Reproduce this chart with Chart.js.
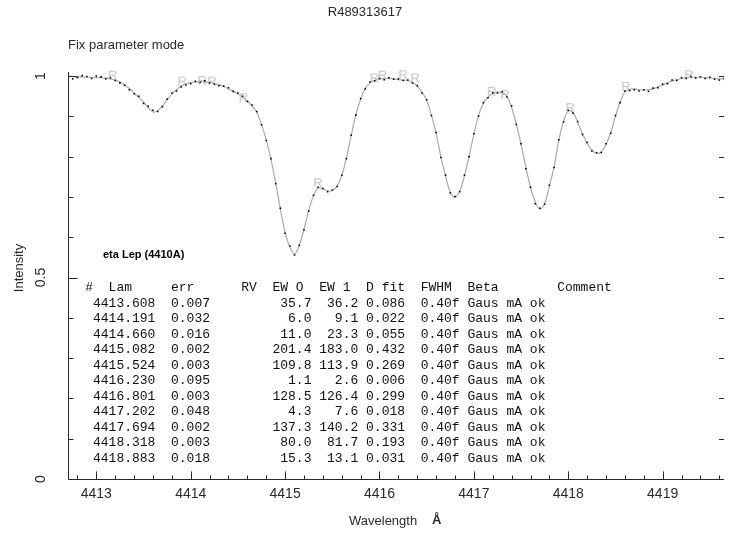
<!DOCTYPE html>
<html>
<head>
<meta charset="utf-8">
<script src="https://cdn.jsdelivr.net/npm/chart.js@4/dist/chart.umd.min.js"></script>
<style>
  html, body { margin: 0; padding: 0; background: #fff; }
  canvas { display: block; }
</style>
</head>
<body>
<canvas id="c" width="729" height="535"></canvas>
<script>
// ---------- DATA ----------
const chartTitle = "R489313617";
const modeText = "Fix parameter mode";
const starName = "eta Lep (4410A)";

// spectrum sampling (wavelength grid of the observed spectrum)
const lamStart = 4412.70;
const lamStep = 0.05;

// observed normalized intensity (dots)
const observed = [
  1.006, 0.993, 0.996, 1.001, 0.999, 0.994, 1.000, 0.998, 0.993, 0.996,
  0.989, 0.983, 0.977, 0.966, 0.956, 0.950, 0.932, 0.925, 0.915, 0.912,
  0.924, 0.943, 0.958, 0.963, 0.973, 0.978, 0.981, 0.987, 0.984, 0.988,
  0.983, 0.980, 0.976, 0.975, 0.971, 0.962, 0.958, 0.950, 0.937, 0.928,
  0.912, 0.879, 0.840, 0.795, 0.733, 0.672, 0.610, 0.578, 0.556, 0.580,
  0.618, 0.665, 0.704, 0.724, 0.721, 0.713, 0.717, 0.726, 0.754, 0.795,
  0.853, 0.903, 0.944, 0.968, 0.985, 0.988, 0.994, 0.991, 0.996, 0.992,
  0.993, 0.989, 0.990, 0.983, 0.976, 0.958, 0.941, 0.902, 0.860, 0.798,
  0.754, 0.710, 0.701, 0.713, 0.754, 0.800, 0.857, 0.901, 0.934, 0.946,
  0.958, 0.958, 0.961, 0.948, 0.926, 0.880, 0.832, 0.770, 0.724, 0.683,
  0.672, 0.682, 0.729, 0.773, 0.842, 0.886, 0.915, 0.908, 0.887, 0.855,
  0.835, 0.814, 0.810, 0.810, 0.832, 0.858, 0.902, 0.934, 0.963, 0.964,
  0.966, 0.963, 0.966, 0.962, 0.970, 0.971, 0.980, 0.981, 0.990, 0.989,
  0.996, 0.994, 0.999, 0.995, 0.998, 0.994, 0.997, 0.992, 0.990, 0.994
];

// fitted profile (grey line)
const fitted = [
  1.000, 0.999, 0.998, 0.998, 0.997, 0.997, 0.996, 0.996, 0.995, 0.993,
  0.990, 0.985, 0.978, 0.969, 0.958, 0.947, 0.935, 0.922, 0.911, 0.914,
  0.926, 0.941, 0.955, 0.966, 0.975, 0.981, 0.984, 0.985, 0.986, 0.985,
  0.984, 0.981, 0.978, 0.974, 0.968, 0.962, 0.956, 0.948, 0.938, 0.926,
  0.910, 0.880, 0.842, 0.793, 0.735, 0.670, 0.612, 0.576, 0.558, 0.579,
  0.620, 0.667, 0.702, 0.722, 0.720, 0.715, 0.716, 0.727, 0.752, 0.797,
  0.852, 0.905, 0.942, 0.970, 0.983, 0.990, 0.992, 0.994, 0.994, 0.993,
  0.991, 0.990, 0.989, 0.984, 0.975, 0.960, 0.940, 0.903, 0.858, 0.800,
  0.752, 0.712, 0.699, 0.715, 0.752, 0.802, 0.855, 0.903, 0.932, 0.948,
  0.956, 0.960, 0.959, 0.950, 0.922, 0.880, 0.830, 0.775, 0.724, 0.688,
  0.670, 0.684, 0.727, 0.775, 0.840, 0.888, 0.913, 0.910, 0.885, 0.857,
  0.833, 0.816, 0.808, 0.812, 0.830, 0.860, 0.900, 0.936, 0.961, 0.967,
  0.968, 0.966, 0.965, 0.966, 0.968, 0.973, 0.978, 0.983, 0.988, 0.991,
  0.994, 0.996, 0.997, 0.997, 0.997, 0.996, 0.995, 0.994, 0.993, 0.993
];

// continuum / region markers ("R")
const markerLam = [4413.175, 4413.911, 4414.122, 4414.227, 4414.560, 4415.349, 4415.946,
                   4416.033, 4416.251, 4416.377, 4417.190, 4417.330, 4418.022, 4418.611, 4419.277];
const markerVal = [1.001, 0.986, 0.988, 0.986, 0.945, 0.734, 0.994,
                   1.001, 1.002, 0.994, 0.961, 0.953, 0.920, 0.973, 1.002];

// axis ticks
const xMin = 4412.70, xMax = 4419.65;
const yMin = 0, yMax = 1.015;
const xTickLabels = [4413, 4414, 4415, 4416, 4417, 4418, 4419];
const yTickLabels = [0, 0.5, 1];

// line table
const tblLam  = ["4413.608","4414.191","4414.660","4415.082","4415.524","4416.230","4416.801","4417.202","4417.694","4418.318","4418.883"];
const tblErr  = ["0.007","0.032","0.016","0.002","0.003","0.095","0.003","0.048","0.002","0.003","0.018"];
const tblEW0  = ["35.7","6.0","11.0","201.4","109.8","1.1","128.5","4.3","137.3","80.0","15.3"];
const tblEW1  = ["36.2","9.1","23.3","183.0","113.9","2.6","126.4","7.6","140.2","81.7","13.1"];
const tblDfit = ["0.086","0.022","0.055","0.432","0.269","0.006","0.299","0.018","0.331","0.193","0.031"];
const tblFwhm = "0.40f";
const tblBeta = "Gaus mA ok";

// ---------- BUILD ----------
const obsPts = observed.map((v, i) => ({ x: +(lamStart + lamStep * i).toFixed(3), y: v }));
const fitPts = fitted.map((v, i) => ({ x: +(lamStart + lamStep * i).toFixed(3), y: v }));
const markerPts = markerLam.map((l, i) => ({ x: l, y: markerVal[i] }));

// glyph "R" as point style
const rGlyph = document.createElement('canvas');
rGlyph.width = 12; rGlyph.height = 14;
{
  const g = rGlyph.getContext('2d');
  g.fillStyle = '#c2c2c2';
  g.font = '13px "Liberation Sans", Arial, sans-serif';
  g.textAlign = 'center'; g.textBaseline = 'middle';
  g.fillText('R', 6, 7.5);
}

const decor = {
  id: 'decor',
  afterDraw(chart) {
    const ctx = chart.ctx;
    const xs = chart.scales.x, ys = chart.scales.y;
    const area = chart.chartArea;
    const ink = '#2a2a2a';
    ctx.save();
    ctx.strokeStyle = ink;
    ctx.lineWidth = 1;
    // axis lines
    const L = Math.round(area.left) + 0.5;
    const B = Math.round(ys.getPixelForValue(0)) + 0.5;
    ctx.beginPath();
    ctx.moveTo(L, area.top + 2); ctx.lineTo(L, B);
    ctx.lineTo(area.right, B);
    ctx.stroke();
    // x ticks (every 0.2, major at integers)
    ctx.beginPath();
    for (let k = 0; k <= 40; k++) {
      const v = 4412.8 + 0.2 * k;
      if (v > xMax) break;
      const px = Math.round(xs.getPixelForValue(v)) + 0.5;
      const major = Math.abs(v - Math.round(v)) < 1e-6;
      ctx.moveTo(px, B); ctx.lineTo(px, B - (major ? 8 : 4));
    }
    // y ticks left and right (every 0.1)
    for (let k = 0; k <= 10; k++) {
      const v = k / 10;
      const py = Math.round(ys.getPixelForValue(v)) + 0.5;
      const major = (k % 5 === 0);
      ctx.moveTo(L, py); ctx.lineTo(L + (major ? 9 : 5), py);
      if (k > 0) { ctx.moveTo(area.right, py); ctx.lineTo(area.right - 5, py); }
    }
    ctx.stroke();

    ctx.fillStyle = ink;
    // x tick labels
    ctx.font = '14px "Liberation Sans", Arial, sans-serif';
    ctx.textAlign = 'center'; ctx.textBaseline = 'middle';
    xTickLabels.forEach(v => {
      ctx.fillText(String(v), xs.getPixelForValue(v), 494);
    });
    // y tick labels rotated
    yTickLabels.forEach(v => {
      ctx.save();
      ctx.translate(41, ys.getPixelForValue(v));
      ctx.rotate(-Math.PI / 2);
      ctx.fillText(String(v), 0, 0);
      ctx.restore();
    });
    // axis titles
    ctx.font = '13px "Liberation Sans", Arial, sans-serif';
    ctx.save();
    ctx.translate(19, 268);
    ctx.rotate(-Math.PI / 2);
    ctx.fillText('Intensity', 0, 0);
    ctx.restore();
    ctx.textAlign = 'left';
    ctx.fillText('Wavelength', 349, 521);
    ctx.font = 'bold 13px "Liberation Sans", Arial, sans-serif';
    ctx.fillText('\u00C5', 432, 520);
    // titles
    ctx.font = '13px "Liberation Sans", Arial, sans-serif';
    ctx.textAlign = 'center';
    ctx.fillText(chartTitle, 365, 12);
    ctx.textAlign = 'left';
    ctx.fillText(modeText, 68, 45);
    // star name
    ctx.fillStyle = '#000';
    ctx.font = 'bold 11px "Liberation Sans", Arial, sans-serif';
    ctx.fillText(starName, 103, 255);
    // table
    ctx.font = '13px "Liberation Mono", "DejaVu Sans Mono", monospace';
    ctx.fillStyle = '#111';
    const cw = ctx.measureText('0').width;
    const x0 = 93;
    const col = c => x0 + c * cw;
    const head = [[-1,'#'],[2,'Lam'],[10,'err'],[19,'RV'],[23,'EW O'],[29,'EW 1'],[35,'D fit'],[42,'FWHM'],[48,'Beta'],[59.5,'Comment']];
    head.forEach(([c, t]) => ctx.fillText(t, col(c), 288));
    for (let r = 0; r < tblLam.length; r++) {
      const y = 303.5 + 15.5 * r;
      ctx.fillText(tblLam[r], col(0), y);
      ctx.fillText(tblErr[r], col(10), y);
      ctx.fillText(tblEW0[r], col(28 - tblEW0[r].length), y);
      ctx.fillText(tblEW1[r], col(34 - tblEW1[r].length), y);
      ctx.fillText(tblDfit[r], col(35), y);
      ctx.fillText(tblFwhm, col(42), y);
      ctx.fillText(tblBeta, col(48), y);
    }
    ctx.restore();
  }
};

new Chart(document.getElementById('c'), {
  type: 'scatter',
  data: {
    datasets: [
      {
        label: 'fit',
        type: 'line',
        data: fitPts,
        borderColor: '#aaaaaa',
        borderWidth: 1.2,
        pointRadius: 0,
        tension: 0.35,
        fill: false,
        order: 3
      },
      {
        label: 'observed',
        data: obsPts,
        pointStyle: 'rect',
        pointRadius: 1.1,
        backgroundColor: '#000',
        borderColor: '#000',
        borderWidth: 0,
        order: 1
      },
      {
        label: 'markers',
        data: markerPts,
        pointStyle: rGlyph,
        order: 2
      }
    ]
  },
  options: {
    responsive: false,
    devicePixelRatio: 1,
    animation: false,
    layout: { padding: { left: 68, right: 0, top: 70, bottom: 56 } },
    plugins: { legend: { display: false }, tooltip: { enabled: false }, title: { display: false } },
    scales: {
      x: { type: 'linear', min: xMin, max: xMax, display: false },
      y: { type: 'linear', min: yMin, max: yMax, display: false }
    }
  },
  plugins: [decor]
});
</script>
</body>
</html>
